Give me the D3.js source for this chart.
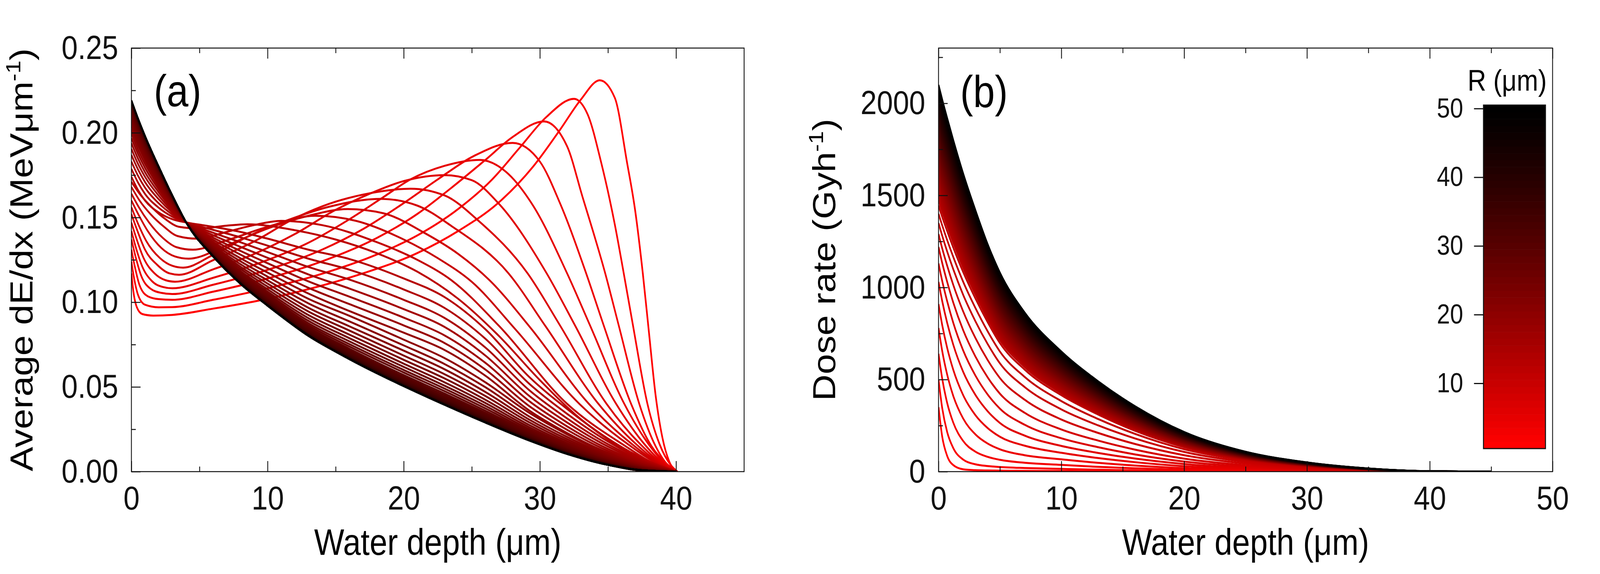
<!DOCTYPE html>
<html>
<head>
<meta charset="utf-8">
<title>Average dE/dx and dose rate vs water depth</title>
<script src="https://cdn.jsdelivr.net/npm/d3@7"></script>
<style>
  html, body { margin: 0; padding: 0; width: 100%; height: 100%; overflow: hidden; background: #fff; }
  #chart svg { display: block; width: 100vw; height: 100vh; }
</style>
</head>
<body>
<div id="chart"></div>
<script>
// source radius of every curve, um (colour bar 1..50)
const radii = [1,2,3,4,5,6,7,8,9,10,11,12,13,14,15,16,17,18,19,20,21,22,23,24,25,
  26,27,28,29,30,31,32,33,34,35,36,37,38,39,40,41,42,43,44,45,46,47,48,49,50];

// (a) R = 1..12 : curves with a Bragg peak, [depth, dE/dx]
const peakedA = [
  [[0,.117],[0.15,.106],[0.4,.097],[0.8,.093],[1.6,.0921],[3,.0925],[6,.0962],[9.25,.1008],[13,.1077],[17,.117],[21,.129],[24,.142],[27,.159],[29.5,.180],[31.5,.202],[33,.2195],[34.4,.231],[35.5,.2207],[36.4,.1825],[37,.154],[37.56,.117],[38,.083],[38.5,.045],[39,.02],[39.5,.006],[40.1,0]],
  [[0,.124],[0.2,.114],[0.5,.104],[1,.0985],[2,.097],[3,.0971],[6,.1014],[10,.1082],[14,.1168],[18,.1281],[21,.1394],[24,.155],[26.5,.1725],[28.5,.191],[30.5,.2095],[32.5,.220],[33.5,.211],[34.5,.1825],[35.5,.146],[36.16,.117],[36.8,.088],[37.9,.040],[38.8,.016],[39.6,.004],[40.1,0]],
  [[0,.131],[0.25,.121],[0.6,.110],[1.2,.1035],[2,.1018],[3,.1014],[6,.1062],[10,.114],[14,.1241],[18,.1378],[21,.1521],[23.5,.1675],[26,.184],[28,.1975],[30.3,.2067],[32,.192],[33.1,.163],[34.8,.117],[35.8,.086],[37.3,.040],[38.5,.015],[39.5,.003],[40.1,0]],
  [[0,.137],[0.3,.127],[0.7,.116],[1.4,.108],[2.2,.1055],[3,.1048],[6,.1103],[10,.1191],[14,.131],[17,.1431],[20,.1585],[22.5,.1725],[25.2,.1865],[28,.194],[30,.183],[31.5,.158],[33.4,.117],[34.7,.086],[36.7,.040],[38.2,.015],[39.4,.004],[40.1,0]],
  [[0,.142],[0.3,.133],[0.8,.121],[1.5,.1125],[2.3,.109],[3,.1082],[6,.1144],[10,.1249],[13,.1351],[16,.1489],[18.5,.162],[20.5,.1725],[23,.1805],[25.6,.184],[27.5,.177],[29.5,.157],[32,.117],[33.7,.086],[36.2,.040],[38,.016],[39.3,.004],[40.1,0]],
  [[0,.147],[0.35,.138],[0.9,.126],[1.7,.117],[2.5,.113],[3.2,.1121],[6,.1194],[9,.1284],[12,.1402],[15,.1545],[17.5,.164],[20,.1715],[23,.175],[25,.172],[27,.158],[30.5,.117],[32.6,.086],[35.6,.040],[37.7,.016],[39.2,.004],[40.1,0]],
  [[0,.152],[0.4,.143],[1,.131],[1.9,.122],[2.8,.117],[3.5,.1162],[6,.1248],[9,.1358],[12,.1495],[14.5,.158],[17.5,.1643],[20.5,.167],[23,.163],[25.5,.148],[29.1,.117],[31.5,.086],[34.9,.040],[37.4,.016],[39.1,.004],[40.1,0]],
  [[0,.156],[0.45,.147],[1.1,.136],[2.1,.126],[3,.1215],[3.8,.1204],[6,.1279],[9,.1405],[11.5,.1485],[14.5,.1563],[18.3,.161],[21,.157],[23.5,.145],[27.7,.117],[30.4,.086],[34.3,.040],[37.1,.016],[39,.004],[40.1,0]],
  [[0,.160],[0.5,.152],[1.2,.142],[2.2,.132],[3.2,.127],[4.2,.1257],[7,.1335],[10,.1435],[13,.151],[15.9,.155],[18.5,.1525],[21.5,.141],[24,.1285],[26.3,.113],[29.3,.085],[33.6,.040],[36.8,.016],[38.9,.004],[40.1,0]],
  [[0,.164],[0.55,.156],[1.3,.147],[2.3,.138],[3.3,.1325],[4.5,.131],[7,.1365],[10,.1445],[13.5,.151],[16.5,.148],[20,.137],[22.5,.126],[25,.112],[28.2,.084],[32.9,.040],[36.5,.016],[38.8,.004],[40.1,0]],
  [[0,.168],[0.6,.160],[1.4,.152],[2.4,.1445],[3.4,.139],[4.8,.1375],[7,.1415],[9,.1455],[11,.148],[14,.1455],[18,.1355],[21,.125],[23.5,.113],[27,.086],[32,.040],[36.1,.016],[38.6,.004],[40.1,0]],
  [[0,.171],[0.6,.164],[1.5,.156],[2.5,.149],[3.5,.1445],[5,.1435],[7,.1452],[8.5,.146],[12,.1425],[15,.137],[18,.129],[21,.118],[24,.102],[27,.080],[30,.054],[33,.031],[36,.014],[38.4,.004],[40.1,0]]
];

// (a) R = 13..50 : smooth curves, dE/dx at the shared depths below
const depthA = [0, 0.5, 1, 2, 3, 4.1, 6, 8, 10, 13, 16, 20, 23, 26, 29.2, 32, 35, 37.5, 40];
const smoothA = [
  [.174,.166,.160,.153,.149,.147,.1445,.1415,.1375,.131,.1255,.114,.103,.084,.056,.037,.0195,.008,0],
  [.1787,.1704,.1639,.1558,.1505,.1469,.1427,.1383,.1334,.1257,.1192,.1075,.0966,.0784,.0520,.0341,.0178,.0072,0],
  [.1830,.1744,.1676,.1584,.1518,.1468,.1410,.1354,.1296,.1208,.1134,.1014,.0907,.0732,.0482,.0314,.0162,.0065,0],
  [.1869,.1781,.1709,.1608,.1530,.1467,.1395,.1327,.1262,.1164,.1081,.0959,.0854,.0685,.0448,.0290,.0148,.0059,0],
  [.1905,.1814,.1740,.1629,.1541,.1466,.1381,.1303,.1230,.1123,.1033,.0909,.0804,.0642,.0417,.0267,.0134,.0053,0],
  [.1938,.1845,.1767,.1649,.1552,.1466,.1368,.1281,.1201,.1085,.0989,.0863,.0759,.0602,.0388,.0247,.0122,.0047,0],
  [.1968,.1873,.1793,.1667,.1561,.1465,.1356,.1260,.1175,.1051,.0948,.0820,.0718,.0566,.0362,.0228,.0111,.0042,0],
  [.1996,.1898,.1816,.1683,.1570,.1464,.1346,.1242,.1151,.1020,.0920,.0779,.0670,.0527,.0348,.0220,.0107,.0037,0],
  [.2020,.1922,.1837,.1698,.1577,.1464,.1336,.1225,.1129,.0993,.0887,.0745,.0635,.0498,.0326,.0205,.0098,.0033,0],
  [.2042,.1942,.1855,.1711,.1584,.1463,.1327,.1210,.1110,.0967,.0858,.0714,.0604,.0470,.0308,.0192,.0091,.0030,0],
  [.2062,.1961,.1872,.1723,.1590,.1463,.1320,.1197,.1092,.0945,.0833,.0685,.0575,.0446,.0292,.0180,.0084,.0026,0],
  [.2080,.1978,.1887,.1734,.1596,.1462,.1313,.1184,.1076,.0924,.0809,.0660,.0550,.0424,.0276,.0169,.0078,.0023,0],
  [.2096,.1992,.1901,.1744,.1601,.1462,.1307,.1174,.1062,.0906,.0788,.0637,.0527,.0405,.0263,.0160,.0072,.0021,0],
  [.2110,.2006,.1913,.1752,.1605,.1462,.1301,.1164,.1050,.0890,.0769,.0618,.0507,.0388,.0251,.0152,.0067,.0018,0],
  [.2123,.2017,.1923,.1760,.1609,.1461,.1296,.1156,.1039,.0876,.0753,.0600,.0490,.0373,.0241,.0145,.0064,.0016,0],
  [.2134,.2028,.1933,.1766,.1613,.1461,.1292,.1148,.1029,.0864,.0739,.0585,.0475,.0359,.0232,.0138,.0060,.0014,0],
  [.2143,.2036,.1941,.1772,.1615,.1461,.1288,.1142,.1021,.0853,.0726,.0570,.0461,.0347,.0224,.0132,.0056,.0013,0],
  [.2152,.2044,.1948,.1777,.1618,.1461,.1285,.1136,.1014,.0844,.0716,.0559,.0450,.0337,.0217,.0128,.0053,.0011,0],
  [.2159,.2051,.1954,.1781,.1620,.1461,.1282,.1131,.1008,.0835,.0706,.0549,.0439,.0329,.0211,.0124,.0051,.0010,0],
  [.2165,.2057,.1959,.1785,.1622,.1461,.1280,.1127,.1002,.0829,.0698,.0540,.0430,.0321,.0206,.0120,.0048,.0009,0],
  [.2170,.2061,.1963,.1788,.1624,.1460,.1278,.1124,.0998,.0823,.0691,.0533,.0423,.0314,.0201,.0117,.0047,.0008,0],
  [.2174,.2065,.1967,.1791,.1625,.1460,.1276,.1121,.0994,.0818,.0686,.0527,.0418,.0309,.0198,.0114,.0046,.0008,0],
  [.2178,.2069,.1970,.1793,.1626,.1460,.1275,.1118,.0991,.0814,.0681,.0522,.0413,.0305,.0196,.0113,.0044,.0007,0],
  [.2181,.2071,.1972,.1795,.1627,.1460,.1274,.1116,.0988,.0810,.0677,.0518,.0408,.0301,.0193,.0111,.0043,.0007,0],
  [.2183,.2074,.1974,.1796,.1628,.1460,.1273,.1115,.0986,.0808,.0674,.0515,.0404,.0298,.0191,.0109,.0043,.0006,0],
  [.2185,.2075,.1976,.1797,.1628,.1460,.1272,.1113,.0984,.0806,.0672,.0512,.0402,.0296,.0189,.0108,.0042,.0006,0],
  [.2186,.2077,.1977,.1798,.1629,.1460,.1271,.1112,.0983,.0804,.0670,.0510,.0400,.0294,.0188,.0107,.0041,.0006,0],
  [.2188,.2078,.1978,.1799,.1629,.1460,.1271,.1112,.0982,.0803,.0668,.0508,.0398,.0293,.0187,.0107,.0041,.0006,0],
  [.2188,.2079,.1979,.1799,.1630,.1460,.1271,.1111,.0981,.0802,.0667,.0507,.0397,.0292,.0187,.0106,.0041,.0006,0],
  [.2189,.2079,.1979,.1799,.1630,.1460,.1270,.1111,.0981,.0801,.0666,.0506,.0396,.0291,.0186,.0106,.0040,.0007,0],
  [.2189,.2079,.1979,.1800,.1630,.1460,.1270,.1110,.0980,.0801,.0666,.0506,.0396,.0291,.0186,.0105,.0040,.0007,0],
  [.2190,.2080,.1980,.1800,.1630,.1460,.1270,.1110,.0980,.0803,.0665,.0505,.0395,.0290,.0185,.0105,.0040,.0008,0],
  [.2190,.2080,.1980,.1800,.1630,.1460,.1270,.1110,.0980,.0803,.0665,.0505,.0395,.0290,.0185,.0105,.0040,.0008,0],
  [.2190,.2080,.1980,.1800,.1630,.1460,.1270,.1110,.0980,.0803,.0665,.0505,.0395,.0290,.0185,.0105,.0040,.0008,0],
  [.2190,.2080,.1980,.1800,.1630,.1460,.1270,.1110,.0980,.0803,.0665,.0505,.0395,.0290,.0185,.0105,.0040,.0008,0],
  [.2190,.2080,.1980,.1800,.1630,.1460,.1270,.1110,.0980,.0803,.0665,.0505,.0395,.0290,.0185,.0105,.0040,.0008,0],
  [.2190,.2080,.1980,.1800,.1630,.1460,.1270,.1110,.0980,.0803,.0665,.0505,.0395,.0290,.0185,.0105,.0040,.0008,0],
  [.219,.208,.198,.180,.163,.146,.127,.111,.098,.0805,.0665,.0505,.0395,.029,.0185,.0105,.004,.0008,0]
];

// (b) dose rate (Gy/h) for R = 1..50 at the shared depths below
const depthB = [0, 0.3, 0.7, 1.2, 2, 3, 4, 5, 7, 10, 13, 16, 20, 25, 30, 35, 40, 45];
const doseB = [
  [350,190,86,35.5,12.8,7.7,6.2,5.4,4.3,3.3,2.2,1.5,0.76,0.33,0.14,0.05,0.005,0],
  [500,345,216,128,65.8,39.8,30.2,25,19.6,15.1,10.5,7.1,3.7,1.65,0.69,0.21,0.02,0],
  [640,505,374,266,167,108.5,80.2,64.1,48.2,36.7,25.8,17.9,9.4,4.3,1.87,0.57,0.06,0],
  [780,655,528,411,289,202.5,152.5,121.2,89.2,66.8,47.6,32.8,18.7,8.7,3.7,1.16,0.13,0],
  [910,796,673,553,416,307,236.7,189.4,141,102.2,73.5,51.2,29.4,14,6.0,1.9,0.21,0],
  [1030,926,809,689,543,417,328,264,196,139.5,101.5,71,41.3,19.8,8.6,2.75,0.31,0],
  [1130,1035,926,808,659,522,419,342,255,181,132.5,93.5,54.7,26.5,11.6,3.77,0.42,0],
  [1220,1133,1031,918,769,625.5,512,423,320,229,168.4,119.5,70.5,34.5,15.3,5.0,0.57,0],
  [1290,1212,1119,1014,871,726,606,508,391,283,210,150,89,44,19.7,6.5,0.75,0],
  [1350,1281,1196,1099,961,817,693,588,460,338,251,180,107,53,24,8.0,0.92,0],
  [1400,1337,1258,1166,1032,889,762,652,515,383,285.5,205,122,61,27.7,9.3,1.08,0],
  [1445,1383,1307,1217,1085,941,812,698,555,415,310,222,133,66,30.3,10.2,1.18,0],
  [1475,1412,1335,1244,1109,963,831,715,569,426,318,228,137,67.9,31.2,10.5,1.2,0],
  [1499,1435,1357,1265,1129,980,847,729,581,434,325,233,140,69.4,31.9,10.8,1.2,0],
  [1521,1457,1378,1284,1147,996,861,742,591,442,331,238,142,70.9,32.6,11.0,1.3,0],
  [1542,1477,1398,1303,1164,1012,874,754,601,450,337,242,145,72.2,33.2,11.2,1.3,0],
  [1562,1497,1416,1321,1180,1027,888,766,610,457,342,246,147,73.5,33.8,11.4,1.3,0],
  [1581,1516,1435,1338,1196,1041,900,778,620,464,348,250,150,74.7,34.4,11.6,1.35,0],
  [1601,1534,1453,1355,1212,1055,912,788,629,471,353,254,153,76.0,35.0,11.8,1.4,0],
  [1619,1552,1470,1372,1227,1068,925,800,637,478,358,258,155,77.2,35.5,12.0,1.4,0],
  [1638,1570,1487,1388,1242,1082,936,810,646,485,363,261,157,78.3,36.1,12.2,1.4,0],
  [1656,1588,1504,1404,1257,1095,948,821,655,491,368,265,159,79.5,36.6,12.4,1.4,0],
  [1673,1605,1521,1420,1272,1108,960,832,663,498,373,269,162,80.6,37.2,12.6,1.5,0],
  [1691,1622,1537,1436,1286,1121,971,842,671,504,378,272,164,81.8,37.7,12.8,1.5,0],
  [1708,1639,1553,1451,1300,1134,982,852,679,510,382,276,166,82.9,38.2,12.9,1.5,0],
  [1725,1656,1569,1467,1314,1146,993,861,687,516,387,279,168,83.9,38.7,13.1,1.5,0],
  [1742,1672,1585,1482,1328,1158,1004,871,696,523,392,283,171,85.1,39.2,13.3,1.6,0],
  [1759,1688,1601,1497,1342,1171,1015,881,704,529,396,286,173,86.1,39.7,13.5,1.6,0],
  [1776,1705,1616,1511,1355,1183,1026,891,711,535,401,290,175,87.2,40.2,13.6,1.6,0],
  [1792,1721,1632,1526,1369,1195,1036,900,719,541,405,292,177,88.3,40.7,13.8,1.6,0],
  [1808,1736,1647,1540,1382,1207,1047,910,727,547,410,295,179,89.3,41.2,14.0,1.6,0],
  [1825,1752,1662,1555,1395,1219,1057,920,735,552,414,299,180,90.4,41.7,14.1,1.7,0],
  [1841,1768,1677,1569,1408,1230,1068,929,742,558,419,302,182,91.4,42.2,14.3,1.7,0],
  [1857,1783,1692,1583,1421,1242,1078,938,750,564,423,305,184,92.4,42.7,14.5,1.7,0],
  [1872,1799,1707,1598,1434,1254,1088,948,757,570,427,308,186,93.4,43.2,14.6,1.7,0],
  [1888,1814,1722,1611,1447,1265,1098,957,764,575,432,312,188,94.4,43.6,14.8,1.7,0],
  [1904,1829,1736,1625,1460,1277,1108,966,773,581,436,315,191,95.5,44.1,15.0,1.8,0],
  [1919,1844,1751,1639,1472,1288,1118,974,780,587,440,318,193,96.4,44.6,15.1,1.8,0],
  [1935,1859,1766,1653,1485,1299,1128,983,787,592,445,321,195,97.4,45.0,15.3,1.8,0],
  [1950,1874,1780,1667,1498,1311,1138,993,794,598,449,324,196,98.4,45.5,15.4,1.8,0],
  [1966,1889,1794,1680,1510,1322,1148,1002,801,603,453,328,198,99.4,46.0,15.6,1.8,0],
  [1981,1904,1808,1694,1523,1333,1158,1010,809,609,457,331,200,100.3,46.4,15.8,1.9,0],
  [1996,1919,1823,1707,1535,1344,1168,1019,816,614,461,334,202,101.4,46.9,15.9,1.9,0],
  [2011,1933,1837,1721,1547,1355,1178,1028,823,620,466,337,204,102.3,47.3,16.1,1.9,0],
  [2026,1948,1851,1734,1560,1366,1187,1037,830,625,470,340,206,103.2,47.8,16.2,1.9,0],
  [2041,1963,1865,1747,1572,1377,1197,1045,837,631,474,343,208,104.2,48.2,16.4,1.9,0],
  [2056,1977,1879,1761,1584,1388,1206,1054,845,636,478,346,210,105.2,48.7,16.5,1.9,0],
  [2071,1991,1892,1774,1596,1398,1216,1063,851,641,482,349,212,106.1,49.1,16.7,2.0,0],
  [2085,2006,1906,1787,1608,1409,1226,1072,858,647,486,352,213,107.1,49.6,16.8,2.0,0],
  [2100,2020,1920,1800,1620,1420,1235,1080,865,652,490,355,215,108,50,17,2,0]
];

// axis ticks
const xMajorA = [0, 10, 20, 30, 40];
const xMinorA = [5, 15, 25, 35];
const yMajorA = [0, 0.05, 0.10, 0.15, 0.20, 0.25];
const yMinorA = [0.025, 0.075, 0.125, 0.175, 0.225];
const xMajorB = [0, 10, 20, 30, 40, 50];
const xMinorB = [5, 15, 25, 35, 45];
const yMajorB = [0, 500, 1000, 1500, 2000];
const yMinorB = [250, 750, 1250, 1750, 2250];
const barTicks = [10, 20, 30, 40, 50];

const W = 4724, H = 1469;
const FONT = "'Liberation Sans', Arial, Helvetica, sans-serif";
const INK = "#111";

const boxA = {left: 388, right: 2197, top: 123, bottom: 1207};
const boxB = {left: 2771, right: 4584, top: 123, bottom: 1207};

const xA = d3.scaleLinear().domain([0, 45]).range([boxA.left, boxA.right]);
const yA = d3.scaleLinear().domain([0, 0.25]).range([boxA.bottom, boxA.top]);
const xB = d3.scaleLinear().domain([0, 50]).range([boxB.left, boxB.right]);
const yB = d3.scaleLinear().domain([0, 2300]).range([boxB.bottom, boxB.top]);

// red (R=1) to black (R=50)
const redBlack = R => {
  const v = Math.round(255 * Math.pow((50 - R) / 49, 1.2));
  return `rgb(${v},0,0)`;
};

// drawn in a fixed 4724x1469 box that fills the whole window
const svg = d3.select("#chart").append("svg")
  .attr("viewBox", `0 0 ${W} ${H}`)
  .attr("preserveAspectRatio", "none")
  .style("background", "#fff");

const defs = svg.append("defs");
[["clipA", boxA], ["clipB", boxB]].forEach(([id, b]) => {
  defs.append("clipPath").attr("id", id).append("rect")
    .attr("x", b.left).attr("y", b.top)
    .attr("width", b.right - b.left).attr("height", b.bottom - b.top);
});

// ---- panel (a) curves
const lineA = d3.line()
  .x(d => xA(d[0]))
  .y(d => yA(d[1]))
  .curve(d3.curveMonotoneX);

const curvesA = svg.append("g").attr("clip-path", "url(#clipA)")
  .attr("fill", "none").attr("stroke-width", 5).attr("stroke-linejoin", "round");

peakedA.forEach((pts, i) => {
  curvesA.append("path").attr("d", lineA(pts)).attr("stroke", redBlack(radii[i]));
});
smoothA.forEach((row, i) => {
  const pts = depthA.map((x, j) => [x, row[j]]);
  curvesA.append("path").attr("d", lineA(pts)).attr("stroke", redBlack(radii[i + peakedA.length]));
});

// ---- panel (b) curves
const lineB = d3.line()
  .x(d => xB(d[0]))
  .y(d => yB(d[1]))
  .curve(d3.curveMonotoneX);

const curvesB = svg.append("g").attr("clip-path", "url(#clipB)")
  .attr("fill", "none").attr("stroke-width", 5).attr("stroke-linejoin", "round");

doseB.forEach((row, i) => {
  const pts = depthB.map((x, j) => [x, row[j]]);
  curvesB.append("path").attr("d", lineB(pts)).attr("stroke", redBlack(radii[i]));
});

// ---- frames and ticks
function tidy(sel, size) {
  sel.select(".domain").remove();
  sel.attr("font-size", size).attr("font-family", FONT).attr("color", INK);
  sel.selectAll("line").attr("stroke-width", 2.5);
}

function drawFrame(box, x, y, t, yFmt) {
  const g = svg.append("g");
  g.append("g").attr("transform", `translate(0,${box.bottom})`)
    .call(d3.axisBottom(x).tickValues(t.xMajor).tickSize(-27).tickPadding(36).tickFormat(d3.format("d")))
    .call(s => tidy(s, 86));
  g.append("g").attr("transform", `translate(0,${box.bottom})`)
    .call(d3.axisBottom(x).tickValues(t.xMinor).tickSize(-13).tickFormat(""))
    .call(s => tidy(s, 86));
  g.append("g").attr("transform", `translate(0,${box.top})`)
    .call(d3.axisTop(x).tickValues(t.xMajor).tickSize(-27).tickFormat(""))
    .call(s => tidy(s, 86));
  g.append("g").attr("transform", `translate(0,${box.top})`)
    .call(d3.axisTop(x).tickValues(t.xMinor).tickSize(-13).tickFormat(""))
    .call(s => tidy(s, 86));
  g.append("g").attr("transform", `translate(${box.left},0)`)
    .call(d3.axisLeft(y).tickValues(t.yMajor).tickSize(-27).tickPadding(39).tickFormat(yFmt))
    .call(s => tidy(s, 86));
  g.append("g").attr("transform", `translate(${box.left},0)`)
    .call(d3.axisLeft(y).tickValues(t.yMinor).tickSize(-13).tickFormat(""))
    .call(s => tidy(s, 86));
  g.append("rect")
    .attr("x", box.left).attr("y", box.top)
    .attr("width", box.right - box.left).attr("height", box.bottom - box.top)
    .attr("fill", "none").attr("stroke", INK).attr("stroke-width", 2.5);
}

drawFrame(boxA, xA, yA, {xMajor: xMajorA, xMinor: xMinorA, yMajor: yMajorA, yMinor: yMinorA}, d3.format(".2f"));
drawFrame(boxB, xB, yB, {xMajor: xMajorB, xMinor: xMinorB, yMajor: yMajorB, yMinor: yMinorB}, d3.format("d"));

// ---- titles
const labels = svg.append("g").attr("font-family", FONT).attr("fill", "#000");

function depthTitle(cx) {
  const t = labels.append("text")
    .attr("x", cx).attr("y", 1420)
    .attr("font-size", 94).attr("text-anchor", "middle");
  t.append("tspan").text("Water depth (");
  t.append("tspan").text("\u03bc");
  t.append("tspan").text("m)");
}
depthTitle((boxA.left + boxA.right) / 2);
depthTitle((boxB.left + boxB.right) / 2);

const yTitleA = labels.append("text")
  .attr("transform", `translate(96,${(boxA.top + boxA.bottom) / 2}) rotate(-90)`)
  .attr("font-size", 94).attr("text-anchor", "middle");
yTitleA.append("tspan").text("Average dE/dx (MeV\u03bcm");
yTitleA.append("tspan").attr("font-size", 60).attr("dy", -36).text("-1");
yTitleA.append("tspan").attr("dy", 36).text(")");

const yTitleB = labels.append("text")
  .attr("transform", `translate(2466,${(boxB.top + boxB.bottom) / 2}) rotate(-90)`)
  .attr("font-size", 94).attr("text-anchor", "middle");
yTitleB.append("tspan").text("Dose rate (Gyh");
yTitleB.append("tspan").attr("font-size", 60).attr("dy", -36).text("-1");
yTitleB.append("tspan").attr("dy", 36).text(")");

labels.append("text").attr("x", 454).attr("y", 272).attr("font-size", 115).text("(a)");
labels.append("text").attr("x", 2835).attr("y", 274).attr("font-size", 115).text("(b)");

// ---- colour bar
const barBox = {left: 4380, right: 4563, top: 269, bottom: 1148};
const cY = d3.scaleLinear().domain([0.5, 50.5]).range([barBox.bottom, barBox.top]);

svg.append("g").selectAll("rect")
  .data(radii)
  .join("rect")
    .attr("x", barBox.left)
    .attr("width", barBox.right - barBox.left)
    .attr("y", d => cY(d + 0.5))
    .attr("height", d => cY(d - 0.5) - cY(d + 0.5) + 0.6)
    .attr("fill", d => redBlack(d));

svg.append("rect")
  .attr("x", barBox.left).attr("y", barBox.top)
  .attr("width", barBox.right - barBox.left).attr("height", barBox.bottom - barBox.top)
  .attr("fill", "none").attr("stroke", INK).attr("stroke-width", 3);

svg.append("g").attr("transform", `translate(${barBox.left},0)`)
  .call(d3.axisLeft(cY).tickValues(barTicks).tickSize(28).tickPadding(32).tickFormat(d3.format("d")))
  .call(s => tidy(s, 70))
  .call(s => s.selectAll("line").attr("stroke-width", 3));

const barTitle = labels.append("text")
  .attr("x", 4333).attr("y", 232).attr("font-size", 76);
barTitle.append("tspan").text("R (");
barTitle.append("tspan").text("\u03bc");
barTitle.append("tspan").text("m)");
</script>
</body>
</html>
